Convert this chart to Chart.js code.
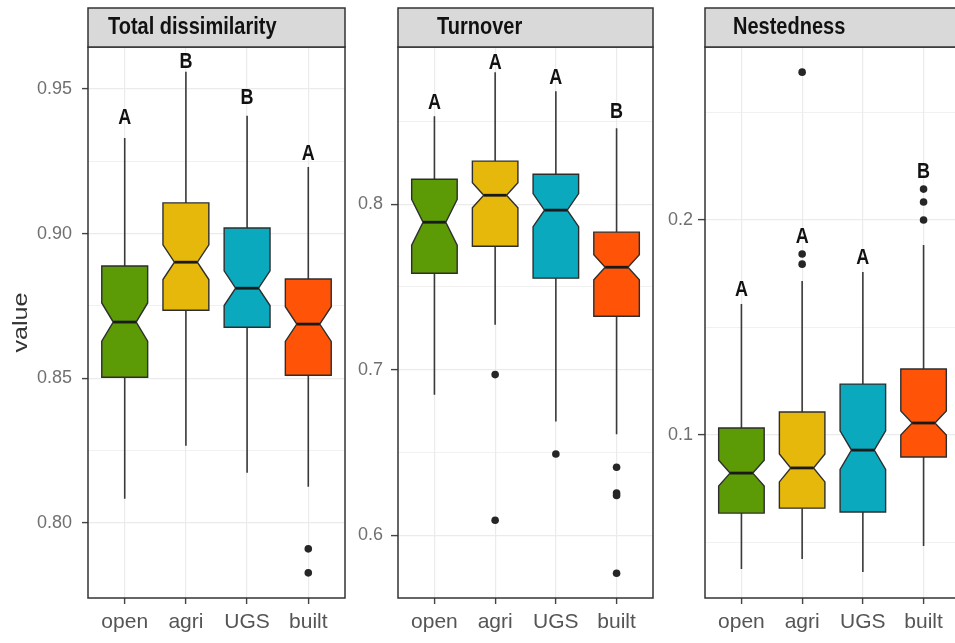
<!DOCTYPE html>
<html>
<head>
<meta charset="utf-8">
<script src="https://cdn.jsdelivr.net/npm/chart.js@4.4.0/dist/chart.umd.min.js"></script>
<style>
  html, body { margin: 0; padding: 0; background: #fff; overflow: hidden; }
  #wrap { position: relative; width: 955px; height: 643px; overflow: hidden; }
  canvas { position: absolute; top: 0; }
</style>
</head>
<body>
<div id="wrap">
  <canvas id="c_total" width="350" height="643" style="left:0px"></canvas>
  <canvas id="c_turn" width="308" height="643" style="left:350px"></canvas>
  <canvas id="c_nest" width="305" height="643" style="left:660px"></canvas>
</div>
<script>
const categories = ['open', 'agri', 'UGS', 'built'];
const fillColors = ['#5c9a06', '#e6b80c', '#0aa9bd', '#ff5408'];

// Total dissimilarity
const totalMin = [0.8083, 0.8266, 0.8173, 0.8125];
const totalQ1 = [0.8503, 0.8735, 0.8676, 0.8510];
const totalMed = [0.8694, 0.8901, 0.8811, 0.8687];
const totalQ3 = [0.8888, 0.9106, 0.9019, 0.8843];
const totalMax = [0.9330, 0.9559, 0.9407, 0.9230];
const totalNotch = [0.0066, 0.0060, 0.0060, 0.0060];
const totalOutliers = [[], [], [], [0.791, 0.7827]];
const totalLetters = ['A', 'B', 'B', 'A'];
const totalLetterY = [0.9400, 0.9593, 0.9469, 0.9275];
const totalTicks = [0.80, 0.85, 0.90, 0.95];
const totalTickLabels = ['0.80', '0.85', '0.90', '0.95'];
const totalMinorTicks = [0.825, 0.875, 0.925];

// Turnover
const turnMin = [0.6849, 0.7272, 0.6686, 0.6610];
const turnQ1 = [0.7583, 0.7746, 0.7553, 0.7323];
const turnMed = [0.7891, 0.8054, 0.7964, 0.7619];
const turnQ3 = [0.8151, 0.8260, 0.8181, 0.7831];
const turnMax = [0.8532, 0.8798, 0.8683, 0.8459];
const turnNotch = [0.0139, 0.0076, 0.0100, 0.0076];
const turnOutliers = [[], [0.697, 0.609], [0.649], [0.641, 0.6254, 0.624, 0.577]];
const turnLetters = ['A', 'A', 'A', 'B'];
const turnLetterY = [0.8610, 0.8852, 0.8761, 0.8556];
const turnTicks = [0.6, 0.7, 0.8];
const turnTickLabels = ['0.6', '0.7', '0.8'];
const turnMinorTicks = [0.65, 0.75, 0.85];

// Nestedness
const nestMin = [0.0377, 0.0423, 0.0363, 0.0484];
const nestQ1 = [0.0637, 0.0660, 0.0642, 0.0898];
const nestMed = [0.0823, 0.0847, 0.0930, 0.1056];
const nestQ3 = [0.1033, 0.1107, 0.1237, 0.1307];
const nestMax = [0.1609, 0.1716, 0.1758, 0.1884];
const nestNotch = [0.0060, 0.0065, 0.0090, 0.0056];
const nestOutliers = [[], [0.1842, 0.1795, 0.2688], [], [0.2144, 0.2084, 0.2000]];
const nestLetters = ['A', 'A', 'A', 'B'];
const nestLetterY = [0.1674, 0.1921, 0.1823, 0.2223];
const nestTicks = [0.1, 0.2];
const nestTickLabels = ['0.1', '0.2'];
const nestMinorTicks = [0.05, 0.15, 0.25];

const FONT = "'Liberation Sans', Arial, sans-serif";

function panelPlugin(p) {
    return {
        id: 'panel_' + p.canvas,
        beforeDatasetsDraw(chart) {
            const ctx = chart.ctx;
            const xs = chart.scales.x;
            const ys = chart.scales.y;
            const unit = xs.getPixelForValue(1) - xs.getPixelForValue(0);
            const half = 0.375 * unit;
            const indent = 0.1875 * unit;
            ctx.save();
            for (let i = 0; i < categories.length; i++) {
                const cx = xs.getPixelForValue(i + 1);
                const yMin = ys.getPixelForValue(p.min[i]);
                const yQ1 = ys.getPixelForValue(p.q1[i]);
                const yMed = ys.getPixelForValue(p.med[i]);
                const yQ3 = ys.getPixelForValue(p.q3[i]);
                const yMax = ys.getPixelForValue(p.max[i]);
                const nLo = ys.getPixelForValue(p.med[i] - p.notch[i]);
                const nHi = ys.getPixelForValue(p.med[i] + p.notch[i]);

                // whiskers
                ctx.strokeStyle = '#3a3a3a';
                ctx.lineWidth = 1.6;
                ctx.beginPath();
                ctx.moveTo(cx, yQ3); ctx.lineTo(cx, yMax);
                ctx.moveTo(cx, yQ1); ctx.lineTo(cx, yMin);
                ctx.stroke();

                // notched box
                ctx.beginPath();
                ctx.moveTo(cx - half, yQ3);
                ctx.lineTo(cx - half, nHi);
                ctx.lineTo(cx - half + indent, yMed);
                ctx.lineTo(cx - half, nLo);
                ctx.lineTo(cx - half, yQ1);
                ctx.lineTo(cx + half, yQ1);
                ctx.lineTo(cx + half, nLo);
                ctx.lineTo(cx + half - indent, yMed);
                ctx.lineTo(cx + half, nHi);
                ctx.lineTo(cx + half, yQ3);
                ctx.closePath();
                ctx.fillStyle = fillColors[i];
                ctx.fill();
                ctx.lineWidth = 1.4;
                ctx.strokeStyle = '#2e2e2e';
                ctx.stroke();

                // median
                ctx.beginPath();
                ctx.lineWidth = 2.8;
                ctx.strokeStyle = '#1a1a1a';
                ctx.moveTo(cx - half + indent, yMed);
                ctx.lineTo(cx + half - indent, yMed);
                ctx.stroke();
            }
            ctx.restore();
        },
        afterDraw(chart) {
            const ctx = chart.ctx;
            const a = chart.chartArea;
            const xs = chart.scales.x;
            const ys = chart.scales.y;
            ctx.save();

            // letters
            ctx.fillStyle = '#111';
            ctx.font = 'bold 18px ' + FONT;
            ctx.textAlign = 'center';
            ctx.textBaseline = 'middle';
            for (let i = 0; i < categories.length; i++) {
                ctx.save();
                ctx.translate(xs.getPixelForValue(i + 1), ys.getPixelForValue(p.letterY[i]));
                ctx.scale(1, 1.22);
                ctx.fillText(p.letters[i], 0, 0);
                ctx.restore();
            }

            // panel border
            ctx.strokeStyle = '#333';
            ctx.lineWidth = 1.5;
            ctx.strokeRect(a.left, a.top, a.right - a.left, a.bottom - a.top);

            // strip
            ctx.fillStyle = '#d9d9d9';
            ctx.fillRect(a.left, 8, a.right - a.left, a.top - 8);
            ctx.strokeRect(a.left, 8, a.right - a.left, a.top - 8);
            ctx.fillStyle = '#111';
            ctx.font = 'bold 20px ' + FONT;
            ctx.textAlign = 'left';
            ctx.textBaseline = 'alphabetic';
            ctx.save();
            ctx.translate(a.left + p.titleOffset, 34);
            ctx.scale(1, 1.15);
            ctx.fillText(p.title, 0, 0);
            ctx.restore();

            // y axis title
            if (p.yTitle) {
                ctx.save();
                ctx.fillStyle = '#333';
                ctx.font = '21px ' + FONT;
                ctx.textAlign = 'center';
                ctx.translate(27, (a.top + a.bottom) / 2);
                ctx.rotate(-Math.PI / 2);
                ctx.scale(1.2, 1);
                ctx.fillText(p.yTitle, 0, 0);
                ctx.restore();
            }
            ctx.restore();
        }
    };
}

function makePanel(p) {
    const outlierPoints = [];
    p.outliers.forEach((list, i) => {
        list.forEach(v => outlierPoints.push({ x: i + 1, y: v }));
    });

    const ctx = document.getElementById(p.canvas).getContext('2d');
    return new Chart(ctx, {
        type: 'scatter',
        data: {
            datasets: [{
                data: outlierPoints,
                backgroundColor: '#262626',
                borderWidth: 0,
                pointRadius: 3.8
            }]
        },
        options: {
            responsive: false,
            animation: false,
            devicePixelRatio: 1,
            layout: { padding: { left: 0, right: 5, top: 47, bottom: 0 } },
            plugins: {
                legend: { display: false },
                tooltip: { enabled: false }
            },
            scales: {
                x: {
                    type: 'linear',
                    min: 0.4,
                    max: 4.6,
                    afterBuildTicks: scale => {
                        scale.ticks = categories.map((c, i) => ({ value: i + 1 }));
                    },
                    afterFit: scale => { scale.height = 45; },
                    ticks: {
                        autoSkip: false,
                        maxRotation: 0,
                        padding: 6,
                        color: '#555',
                        font: { family: FONT, size: 21 },
                        callback: v => categories[v - 1]
                    },
                    grid: {
                        color: '#ebebeb',
                        lineWidth: 1.2,
                        tickLength: 6,
                        tickColor: '#444',
                        tickWidth: 1.4
                    },
                    border: { display: false }
                },
                y: {
                    type: 'linear',
                    min: p.yMin,
                    max: p.yMax,
                    afterBuildTicks: scale => {
                        const t = p.ticks.map(v => ({ value: v }))
                            .concat(p.minorTicks.map(v => ({ value: v, minor: true })));
                        scale.ticks = t.filter(o => o.value >= p.yMin && o.value <= p.yMax);
                    },
                    afterFit: scale => { scale.width = p.axisWidth; },
                    ticks: {
                        autoSkip: false,
                        padding: p.tickPad,
                        color: '#707070',
                        font: { family: FONT, size: 18 },
                        callback: (v) => {
                            const k = p.ticks.indexOf(v);
                            return k >= 0 ? p.tickLabels[k] : '';
                        }
                    },
                    grid: {
                        color: '#ebebeb',
                        lineWidth: c => (c.tick && c.tick.minor ? 0.7 : 1.2),
                        tickLength: p.tickLen,
                        tickColor: c => (c.tick && c.tick.minor ? 'rgba(0,0,0,0)' : '#444'),
                        tickWidth: 1.4
                    },
                    border: { display: false }
                }
            }
        },
        plugins: [panelPlugin(p)]
    });
}

makePanel({
    canvas: 'c_total', title: 'Total dissimilarity', titleOffset: 20, yTitle: 'value',
    min: totalMin, q1: totalQ1, med: totalMed, q3: totalQ3, max: totalMax, notch: totalNotch,
    outliers: totalOutliers, letters: totalLetters, letterY: totalLetterY,
    ticks: totalTicks, tickLabels: totalTickLabels, minorTicks: totalMinorTicks,
    yMin: 0.774, yMax: 0.9645, axisWidth: 88, tickLen: 6, tickPad: 10
});

makePanel({
    canvas: 'c_turn', title: 'Turnover', titleOffset: 39,
    min: turnMin, q1: turnQ1, med: turnMed, q3: turnQ3, max: turnMax, notch: turnNotch,
    outliers: turnOutliers, letters: turnLetters, letterY: turnLetterY,
    ticks: turnTicks, tickLabels: turnTickLabels, minorTicks: turnMinorTicks,
    yMin: 0.562, yMax: 0.895, axisWidth: 48, tickLen: 7, tickPad: 8
});

makePanel({
    canvas: 'c_nest', title: 'Nestedness', titleOffset: 28,
    min: nestMin, q1: nestQ1, med: nestMed, q3: nestQ3, max: nestMax, notch: nestNotch,
    outliers: nestOutliers, letters: nestLetters, letterY: nestLetterY,
    ticks: nestTicks, tickLabels: nestTickLabels, minorTicks: nestMinorTicks,
    yMin: 0.0242, yMax: 0.2805, axisWidth: 45, tickLen: 7, tickPad: 5
});
</script>
</body>
</html>
